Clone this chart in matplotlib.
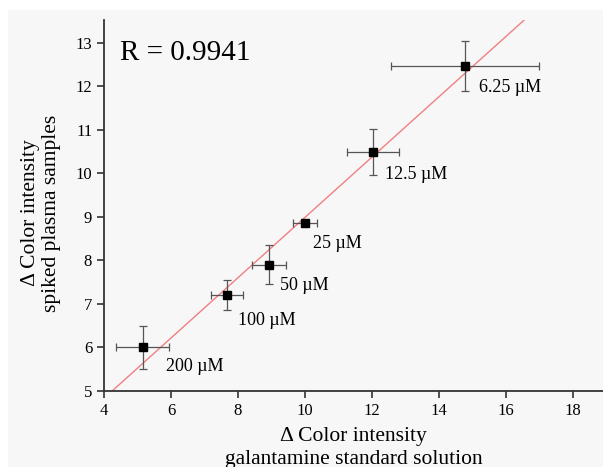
import numpy as np
import matplotlib.pyplot as plt
from matplotlib.patches import Rectangle

# galantamine standard vs spiked plasma, delta colour intensity
labels = ['200 µM', '100 µM', '50 µM', '25 µM', '12.5 µM', '6.25 µM']
std_x = [5.15, 7.67, 8.93, 10.0, 12.03, 14.78]
std_err = [0.8, 0.47, 0.5, 0.37, 0.77, 2.2]
plasma_y = [6.0, 7.2, 7.9, 8.86, 10.49, 12.47]
plasma_err = [0.5, 0.35, 0.45, 0.05, 0.52, 0.57]
r_value = 0.9941

plt.rcParams['font.family'] = ['Liberation Serif', 'DejaVu Serif']

fig = plt.figure(figsize=(6.03, 4.67), dpi=100, facecolor='white')
fig.patches.append(Rectangle((8 / 603, 0), 1, 1 - 10 / 467, transform=fig.transFigure,
                             facecolor='#f7f7f7', edgecolor='none', zorder=-10))
ax = fig.add_axes([104 / 603, 1 - 391 / 467, 499 / 603, 371 / 467])
ax.set_facecolor('none')

# linear fit through the points
slope, icept = np.polyfit(std_x, plasma_y, 1)
fx = np.array([4, 19])
ax.plot(fx, slope * fx + icept, color='#f08080', lw=1.0, zorder=1)

ax.errorbar(std_x, plasma_y, xerr=std_err, yerr=plasma_err, fmt='s', color='black',
            ms=6, ecolor='#555555', elinewidth=0.9, capsize=3, capthick=0.9, zorder=3)

offsets = [(17, -14), (8, -18), (8, -15), (6, -15), (9, -16), (10, -16)]
for lab, x, y, off in zip(labels, std_x, plasma_y, offsets):
    ax.annotate(lab, (x, y), xytext=off, textcoords='offset points',
                fontsize=13, va='center', ha='left')

ax.text(0.033, 0.91, f'R = {r_value}', transform=ax.transAxes, fontsize=21, va='center')

ax.set_xlim(4, 18.9)
ax.set_ylim(5, 13.52)
ax.set_xticks(range(4, 19, 2))
ax.set_yticks(range(5, 14))
ax.spines['top'].set_visible(False)
ax.spines['right'].set_visible(False)
for s in ['left', 'bottom']:
    ax.spines[s].set_linewidth(1.3)
    ax.spines[s].set_color('#333333')
ax.tick_params(labelsize=12, width=1.2, length=5, color='#333333')

ax.set_xlabel('Δ Color intensity\ngalantamine standard solution', fontsize=15.5,
              linespacing=1.25, labelpad=6)
ax.set_ylabel('Δ Color intensity\nspiked plasma samples', fontsize=15.5,
              linespacing=1.1)
ax.yaxis.set_label_coords(-0.087, 0.48)

fig.savefig('out.png', dpi=100)
